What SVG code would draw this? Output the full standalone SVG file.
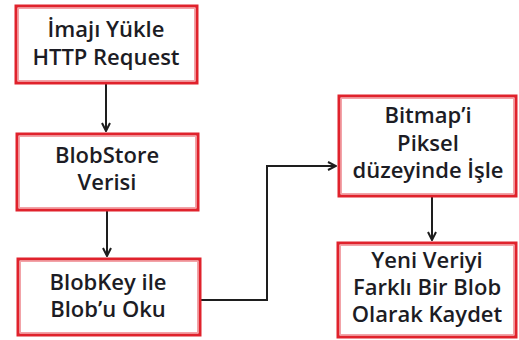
<svg xmlns="http://www.w3.org/2000/svg" width="519" height="340" viewBox="0 0 519 340">
<defs>
<style>
.box{fill:#fff;stroke:#e0222c;stroke-width:3}
.inner{fill:none;stroke:#f2a3a8;stroke-width:1}
.t{font-family:"Open Sans","Liberation Sans",sans-serif;font-weight:600;font-size:22px;fill:#1c1c24;text-anchor:middle}
.c{fill:none;stroke:#1e1e1e;stroke-width:2}
</style>
<marker id="ah" viewBox="0 0 10 10" refX="9" refY="5" markerWidth="10" markerHeight="10" markerUnits="userSpaceOnUse" orient="auto">
<path d="M1,1 L9,5 L1,9" fill="none" stroke="#1e1e1e" stroke-width="2"/>
</marker>
</defs>
<rect width="519" height="340" fill="#fff"/>
<g id="connectors">
<line class="c" x1="106" y1="84" x2="106" y2="131" marker-end="url(#ah)"/>
<line class="c" x1="107" y1="211" x2="107" y2="256" marker-end="url(#ah)"/>
<polyline class="c" points="201,300 267,300 267,166 336,166" marker-end="url(#ah)"/>
<line class="c" x1="432" y1="197" x2="432" y2="240" marker-end="url(#ah)"/>
</g>
<g id="n1">
<rect class="box" x="16" y="6" width="181" height="77"/>
<rect class="inner" x="18.5" y="8.5" width="176" height="72"/>
<text class="t" x="106" y="37">İmajı Yükle</text>
<text class="t" x="106" y="65">HTTP Request</text>
</g>
<g id="n2">
<rect class="box" x="17" y="134" width="181" height="76"/>
<rect class="inner" x="19.5" y="136.5" width="176" height="71"/>
<text class="t" x="107" y="163">BlobStore</text>
<text class="t" x="107" y="190">Verisi</text>
</g>
<g id="n3">
<rect class="box" x="18" y="259" width="182" height="76"/>
<rect class="inner" x="20.5" y="261.5" width="177" height="71"/>
<text class="t" x="108" y="290">BlobKey ile</text>
<text class="t" x="108" y="317">Blob’u Oku</text>
</g>
<g id="n4">
<rect class="box" x="339" y="96" width="177" height="100"/>
<rect class="inner" x="341.5" y="98.5" width="172" height="95"/>
<text class="t" x="428" y="123">Bitmap’i</text>
<text class="t" x="428" y="151">Piksel</text>
<text class="t" x="428" y="178">düzeyinde İşle</text>
</g>
<g id="n5">
<rect class="box" x="338" y="243" width="178" height="94"/>
<rect class="inner" x="340.5" y="245.5" width="173" height="89"/>
<text class="t" x="427" y="268">Yeni Veriyi</text>
<text class="t" x="427" y="295">Farklı Bir Blob</text>
<text class="t" x="427" y="322">Olarak Kaydet</text>
</g>
</svg>
